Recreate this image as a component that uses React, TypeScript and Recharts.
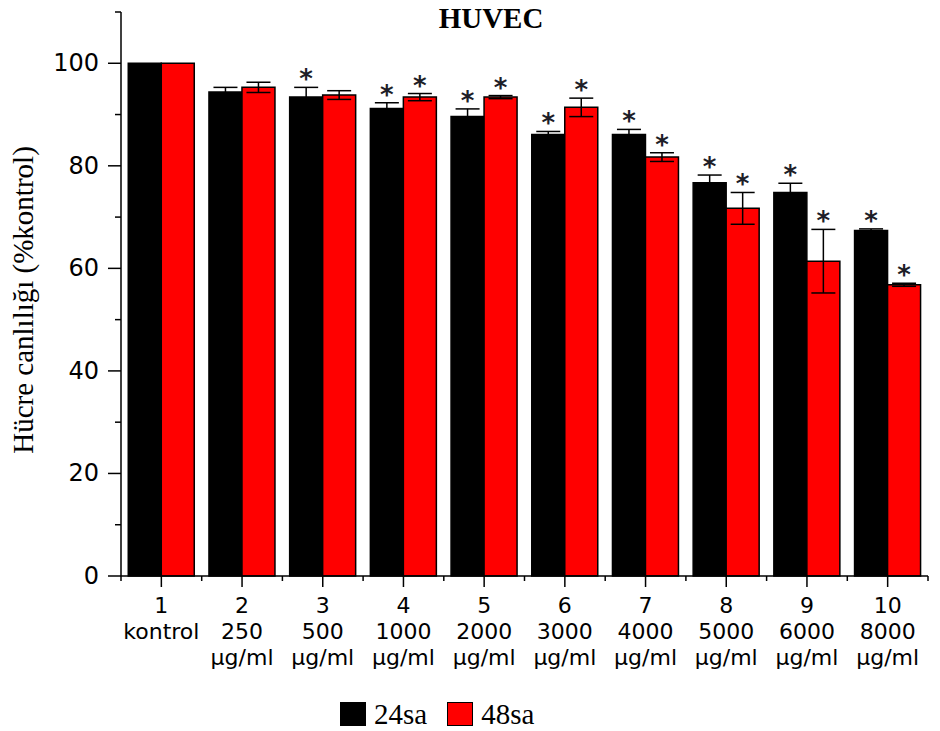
import React from 'react';
import { BarChart, Bar, XAxis, YAxis, ErrorBar, LabelList, Label } from 'recharts';

const categoryNums = ['1', '2', '3', '4', '5', '6', '7', '8', '9', '10'];
const doseLabels = ['kontrol', '250', '500', '1000', '2000', '3000', '4000', '5000', '6000', '8000'];
const unitLabels = ['', 'µg/ml', 'µg/ml', 'µg/ml', 'µg/ml', 'µg/ml', 'µg/ml', 'µg/ml', 'µg/ml', 'µg/ml'];

const values24 = [100, 94.4, 93.4, 91.2, 89.6, 86.1, 86.1, 76.7, 74.8, 67.4];
const errors24 = [0, 0.9, 1.9, 1.1, 1.5, 0.6, 1.0, 1.5, 1.8, 0.3];
const values48 = [100, 95.3, 93.8, 93.4, 93.4, 91.4, 81.7, 71.7, 61.4, 56.8];
const errors48 = [0, 1.0, 0.85, 0.7, 0.3, 1.8, 0.85, 3.1, 6.2, 0.3];
const sig24 = [false, false, true, true, true, true, true, true, true, true];
const sig48 = [false, false, false, true, true, true, true, true, true, true];

const yTicks = [0, 10, 20, 30, 40, 50, 60, 70, 80, 90, 100, 110];
const seriesNames = ['24sa', '48sa'];
const seriesColors = ['#000000', '#ff0000'];

const data = categoryNums.map((c, i) => ({
  cat: c,
  dose: doseLabels[i],
  unit: unitLabels[i],
  s24: values24[i],
  e24: errors24[i],
  s48: values48[i],
  e48: errors48[i],
}));

const W = 940;
const H = 731;
const MARGIN = { top: 12, right: 12, left: 0, bottom: 0 };
const Y_AXIS_W = 121;
const X_AXIS_H = 155;
const BAND = (W - MARGIN.right - Y_AXIS_W) / categoryNums.length;
const SERIF = '"Liberation Serif", "Times New Roman", serif';
const SANS = '"DejaVu Sans", sans-serif';

const YTick = (props: any) => {
  const { x, y, payload } = props;
  const v = payload.value;
  const major = v % 20 === 0;
  return (
    <g>
      <line x1={x - (major ? 13 : 6)} x2={x} y1={y} y2={y} stroke="#000" strokeWidth={1.5} />
      {major && (
        <text x={x - 22} y={y + 8} textAnchor="end" fontFamily={SANS} fontSize={24} fill="#000">
          {v}
        </text>
      )}
    </g>
  );
};

const XTick = (props: any) => {
  const { x, y, payload, index } = props;
  const i = index ?? categoryNums.indexOf(payload.value);
  return (
    <g>
      <line x1={x} x2={x} y1={y} y2={y + 11} stroke="#000" strokeWidth={1.5} />
      <line x1={x + BAND / 2} x2={x + BAND / 2} y1={y} y2={y + 5} stroke="#000" strokeWidth={1.5} />
      {i === 0 && <line x1={x - BAND / 2} x2={x - BAND / 2} y1={y} y2={y + 5} stroke="#000" strokeWidth={1.5} />}
      <text x={x} y={y + 37} textAnchor="middle" fontFamily={SANS} fontSize={22} fill="#000">
        {payload.value}
      </text>
      <text x={x} y={y + 63} textAnchor="middle" fontFamily={SANS} fontSize={22} fill="#000">
        {doseLabels[i]}
      </text>
      {unitLabels[i] && (
        <text x={x} y={y + 89} textAnchor="middle" fontFamily={SANS} fontSize={22} fill="#000">
          {unitLabels[i]}
        </text>
      )}
    </g>
  );
};

const makeStar = (errs: number[], sig: boolean[]) => (props: any) => {
  const { x, y, width, height, value, index } = props;
  if (!sig[index]) return null;
  const pxPerUnit = height / value;
  const top = y - errs[index] * pxPerUnit;
  return (
    <text x={x + width / 2} y={top + 1} textAnchor="middle" fontFamily={SANS} fontWeight="bold" fontSize={26} fill="#1e1e28">
      *
    </text>
  );
};

const YLabel = () => (
  <text
    x={33}
    y={300}
    transform="rotate(-90, 33, 300)"
    textAnchor="middle"
    fontFamily={SERIF}
    fontSize={29}
    fill="#000"
  >
    Hücre canlılığı (%kontrol)
  </text>
);

export default function App() {
  return (
    <div style={{ position: 'absolute', left: 0, top: 0, width: W, height: H, background: '#fff' }}>
      <div
        style={{
          position: 'absolute',
          left: 0,
          width: W,
          top: 0,
          textAlign: 'center',
          paddingLeft: 42,
          boxSizing: 'border-box',
          fontFamily: SERIF,
          fontWeight: 'bold',
          fontSize: 29,
          lineHeight: '36px',
        }}
      >
        HUVEC
      </div>
      <div
        style={{
          position: 'absolute',
          left: 340,
          top: 702,
          display: 'flex',
          alignItems: 'center',
          fontFamily: SERIF,
          fontSize: 29,
          color: '#000',
        }}
      >
        {seriesNames.map((n, i) => (
          <div key={n} style={{ display: 'flex', alignItems: 'center', marginRight: 20 }}>
            <div
              style={{
                width: 26,
                height: 24,
                background: seriesColors[i],
                border: '1px solid #000',
                boxSizing: 'border-box',
                marginRight: 8,
              }}
            />
            <span style={{ lineHeight: '24px' }}>{n}</span>
          </div>
        ))}
      </div>
      <BarChart width={W} height={H} data={data} margin={MARGIN} barCategoryGap="9%" barGap={0}>
        <XAxis
          dataKey="cat"
          height={X_AXIS_H}
          tick={<XTick />}
          tickLine={false}
          tickSize={0}
          tickMargin={0}
          interval={0}
          axisLine={{ stroke: '#000', strokeWidth: 1.5 }}
        />
        <YAxis
          width={Y_AXIS_W}
          domain={[0, 110]}
          ticks={yTicks}
          interval={0}
          tick={<YTick />}
          tickLine={false}
          tickSize={0}
          tickMargin={0}
          axisLine={{ stroke: '#000', strokeWidth: 1.5 }}
        >
          <Label content={<YLabel />} />
        </YAxis>
        <Bar dataKey="s24" name={seriesNames[0]} fill={seriesColors[0]} stroke="#000" strokeWidth={1.5} isAnimationActive={false}>
          <ErrorBar dataKey="e24" width={12} stroke="#000" strokeWidth={1.5} direction="y" />
          <LabelList dataKey="s24" content={makeStar(errors24, sig24)} />
        </Bar>
        <Bar dataKey="s48" name={seriesNames[1]} fill={seriesColors[1]} stroke="#000" strokeWidth={1.5} isAnimationActive={false}>
          <ErrorBar dataKey="e48" width={12} stroke="#000" strokeWidth={1.5} direction="y" />
          <LabelList dataKey="s48" content={makeStar(errors48, sig48)} />
        </Bar>
      </BarChart>
    </div>
  );
}
